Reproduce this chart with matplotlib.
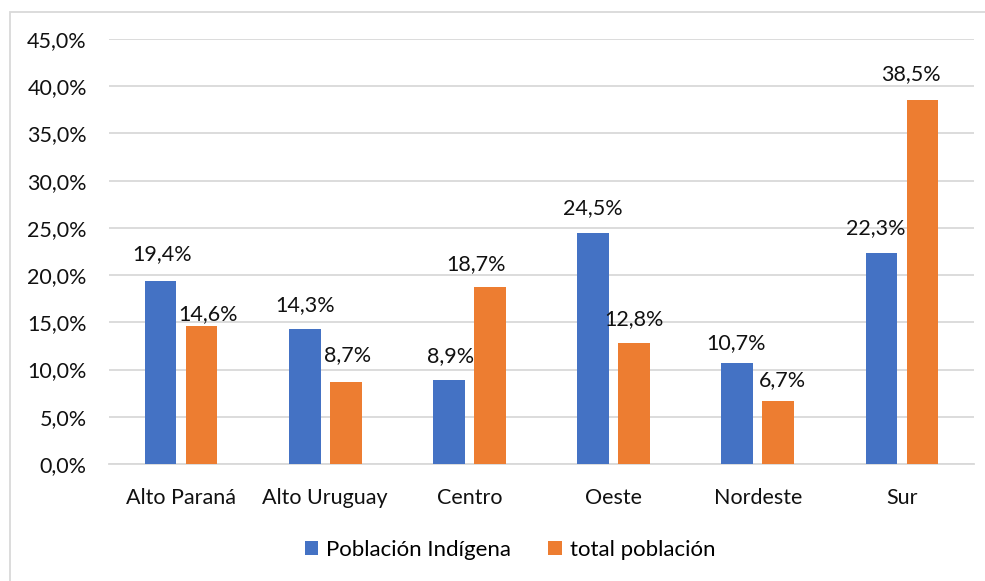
import matplotlib
matplotlib.use("Agg")
import matplotlib.pyplot as plt
import numpy as np
from matplotlib.patches import Rectangle
from matplotlib.ticker import FuncFormatter, MultipleLocator

regiones = ["Alto Paraná", "Alto Uruguay", "Centro", "Oeste", "Nordeste", "Sur"]
poblacion_indigena = [19.4, 14.3, 8.9, 24.5, 10.7, 22.3]
total_poblacion = [14.6, 8.7, 18.7, 12.8, 6.7, 38.5]
serie_nombres = ["Población Indígena", "total población"]

AZUL = "#4472C4"
NARANJA = "#ED7D31"
GRIS = "#D9D9D9"
TXT = "#111111"
FS = 15.5

plt.rcParams["font.family"] = ["Lato", "DejaVu Sans"]

fig = plt.figure(figsize=(9.85, 5.81), dpi=100)
W, H = 985, 581
ax = fig.add_axes([109 / W, 1 - 464 / H, (974 - 109) / W, (464 - 39) / H])

x = np.arange(len(regiones))
ancho = 0.22
desp = 0.142
b1 = ax.bar(x - desp, poblacion_indigena, ancho, color=AZUL, label=serie_nombres[0], zorder=3)
b2 = ax.bar(x + desp, total_poblacion, ancho, color=NARANJA, label=serie_nombres[1], zorder=3)

ax.set_xlim(-0.5, len(regiones) - 0.5)
ax.set_ylim(0, 45)
ax.yaxis.set_major_locator(MultipleLocator(5))
ax.yaxis.set_major_formatter(FuncFormatter(lambda v, _: f"{v:.1f}%".replace(".", ",")))
ax.set_xticks(x)
ax.set_xticklabels(regiones)

ax.grid(axis="y", color=GRIS, linewidth=1.3, zorder=0)
for s in ["top", "right", "left"]:
    ax.spines[s].set_visible(False)
ax.spines["bottom"].set_color(GRIS)
ax.spines["bottom"].set_linewidth(1.3)
ax.tick_params(axis="both", length=0, labelsize=FS, colors=TXT)
ax.tick_params(axis="y", pad=16)
ax.tick_params(axis="x", pad=17)

# label offsets (points) for the two series
dx1 = [1, 0, 1, 0, -1, -4]
dy1 = [19, 17, 17, 18, 14, 18]
dx2 = [5, 1, -10, 0, 3, -8]
dy2 = [9, 19, 17, 17, 15, 19]


def pct(v):
    return f"{v:.1f}%".replace(".", ",")


for rect, v, ox, oy in zip(b1, poblacion_indigena, dx1, dy1):
    ax.annotate(pct(v), (rect.get_x() + rect.get_width() / 2, v),
                xytext=(ox, oy), textcoords="offset points",
                ha="center", va="center", fontsize=FS, color=TXT, zorder=4)
for rect, v, ox, oy in zip(b2, total_poblacion, dx2, dy2):
    ax.annotate(pct(v), (rect.get_x() + rect.get_width() / 2, v),
                xytext=(ox, oy), textcoords="offset points",
                ha="center", va="center", fontsize=FS, color=TXT, zorder=4)

fig.legend(handles=[b1, b2], labels=serie_nombres, loc="center",
           bbox_to_anchor=(510 / W, 1 - 550 / H), ncol=2, frameon=False,
           fontsize=16, handlelength=0.6, handleheight=0.6,
           handletextpad=0.35, columnspacing=1.68)

# chart area border
fig.patches.append(Rectangle((10 / W, -0.1), 1.2, 1 - 12 / H + 0.1,
                             transform=fig.transFigure, fill=False,
                             edgecolor=GRIS, linewidth=1.3))

fig.savefig("out.png", dpi=100, facecolor="white")
